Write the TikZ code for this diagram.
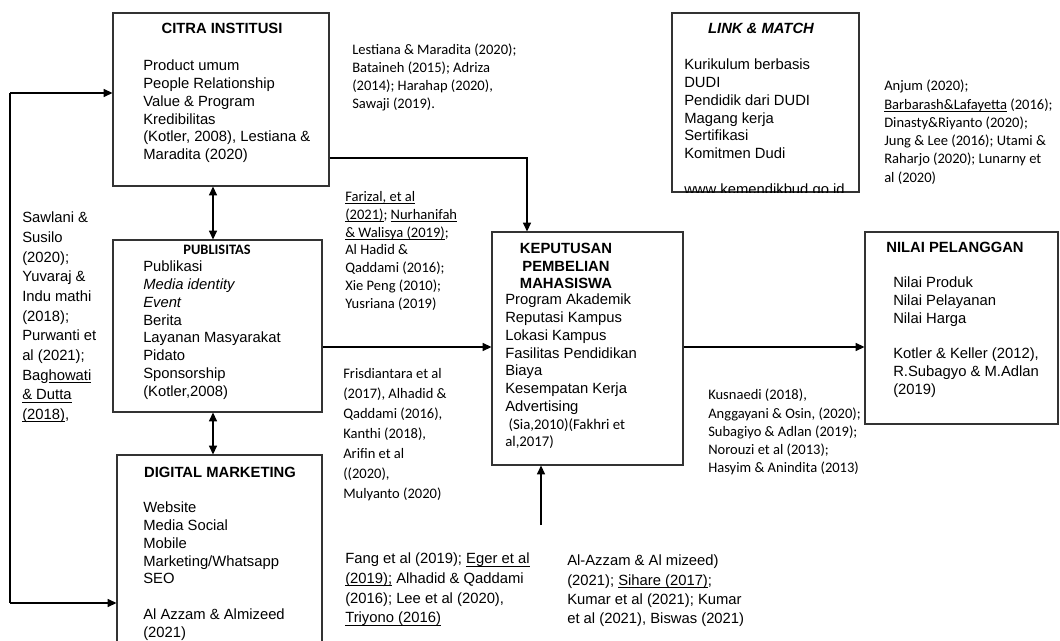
\documentclass[tikz,border=0pt]{standalone}
\usepackage{fontspec}
\setmainfont{Liberation Sans}
\newfontfamily\calibfont{Carlito}
\usetikzlibrary{arrows.meta,fit,calc}

% underline drawn just below the baseline
\newcommand\ulref[1]{\setbox0\hbox{#1}\rlap{\rule[-1.6pt]{\wd0}{0.45pt}}\box0\relax}

\tikzset{
  box/.style={draw=black!80, line width=0.9pt, inner sep=0pt},
  conn/.style={draw=black, line width=1.1pt, -{Triangle[length=6.5pt,width=6pt]}},
  conn2/.style={draw=black, line width=1.1pt, {Triangle[length=6.5pt,width=6pt]}-{Triangle[length=6.5pt,width=6pt]}},
  plainline/.style={draw=black, line width=1.1pt},
  arialtxt/.style={anchor=north west, inner sep=0pt, align=left, font=\fontsize{11.1}{13.3}\selectfont},
  arialref/.style={anchor=north west, inner sep=0pt, align=left, font=\fontsize{11.1}{14.75}\selectfont},
  calibtxt/.style={anchor=north west, inner sep=0pt, align=left, font=\calibfont\fontsize{10.9}{13.4}\selectfont},
  title/.style={inner sep=0pt, anchor=base, font=\bfseries\fontsize{11.1}{13.3}\selectfont},
}

\begin{document}
\begin{tikzpicture}[x=0.75pt,y=-0.75pt]
\useasboundingbox (0,0) rectangle (1060,641);
\fill[white] (0,0) rectangle (1060,641);

% ---------- boxes ----------
\node[box, fit={(113,13) (329,186)}] (citra) {};
\node[box, fit={(113,240) (322,412)}] (pub) {};
\node[box, fit={(117,455) (322,650)}] (dig) {};
\node[box, fit={(492,232) (683,465)}] (kep) {};
\node[box, fit={(865,232) (1058,424)}] (nilai) {};
\node[box, fit={(672,13) (859,192)}] (link) {};

% ---------- CITRA INSTITUSI ----------
\node[title] (citraT) at (222,34) {CITRA INSTITUSI};
\node[arialtxt] (citraL) at (143,60) {Product umum\\People Relationship\\Value \& Program\\Kredibilitas\\(Kotler, 2008), Lestiana \&\\Maradita (2020)};

% ---------- LINK & MATCH ----------
\node[title, font=\bfseries\itshape\fontsize{11.1}{13.3}\selectfont] (linkT) at (761,34) {LINK \& MATCH};
\begin{scope}
  \clip (link.south west) rectangle (link.north east);
  \node[arialtxt] (linkL) at (684,59) {Kurikulum berbasis\\DUDI\\Pendidik dari DUDI\\Magang kerja\\Sertifikasi\\Komitmen Dudi\\[13.3pt]www kemendikbud go id};
\end{scope}

% ---------- PUBLISITAS ----------
\node[title, font=\calibfont\bfseries\fontsize{10.8}{13}\selectfont] (pubT) at (217,255) {PUBLISITAS};
\node[arialtxt] (pubL) at (143,261) {Publikasi\\\textit{Media identity}\\\textit{Event}\\Berita\\Layanan Masyarakat\\Pidato\\Sponsorship\\(Kotler,2008)};

% ---------- DIGITAL MARKETING ----------
\node[title] (digT) at (220,477) {DIGITAL MARKETING};
\node[arialtxt] (digL) at (143,502) {Website\\Media Social\\Mobile\\Marketing/Whatsapp\\SEO\\[13.3pt]Al Azzam \& Almizeed\\(2021)};

% ---------- KEPUTUSAN PEMBELIAN MAHASISWA ----------
\node[anchor=north, inner sep=0pt, align=center, font=\bfseries\fontsize{11.1}{13.1}\selectfont] (kepT) at (566,243) {KEPUTUSAN\\PEMBELIAN\\MAHASISWA};
\node[arialtxt] (kepL) at (505,294) {Program Akademik\\Reputasi Kampus\\Lokasi Kampus\\Fasilitas Pendidikan\\Biaya\\Kesempatan Kerja\\Advertising\\{\calibfont\ (Sia,2010)(Fakhri et}\\{\calibfont al,2017)}};

% ---------- NILAI PELANGGAN ----------
\node[title] (nilaiT) at (955,253) {NILAI PELANGGAN};
\node[arialtxt] (nilaiL) at (893,277) {Nilai Produk\\Nilai Pelayanan\\Nilai Harga\\[13.3pt]Kotler \& Keller (2012),\\R.Subagyo \& M.Adlan\\(2019)};

% ---------- references ----------
\node[arialref] (refLeft) at (22,212) {Sawlani \&\\Susilo\\(2020);\\Yuvaraj \&\\Indu mathi\\(2018);\\Purwanti et\\al (2021);\\Bag\ulref{howati}\\\ulref{\& Dutta}\\\ulref{(2018)},};
\node[calibtxt] (refCitra) at (352,44) {Lestiana \& Maradita (2020);\\Bataineh (2015); Adriza\\(2014); Harahap (2020),\\Sawaji (2019).};
\node[calibtxt] (refPubA) at (345,191) {\ulref{Farizal, et al}\\\ulref{(2021)}; \ulref{Nurhanifah}\\\ulref{\& Walisya (2019)};\\Al Hadid \&\\Qaddami (2016);\\Xie Peng (2010);\\Yusriana (2019)};
\node[calibtxt, font=\calibfont\fontsize{10.9}{15}\selectfont] (refPubB) at (343,368) {Frisdiantara et al\\(2017), Alhadid \&\\Qaddami (2016),\\Kanthi (2018),\\Arifin et al\\((2020),\\Mulyanto (2020)};
\node[calibtxt, font=\calibfont\fontsize{10.9}{13.7}\selectfont] (refLink) at (884,80) {Anjum (2020);\\\ulref{Barbarash\&Lafayetta} (2016);\\Dinasty\&Riyanto (2020);\\Jung \& Lee (2016); Utami \&\\Raharjo (2020); Lunarny et\\al (2020)};
\node[calibtxt, font=\calibfont\fontsize{10.9}{13.7}\selectfont] (refNilai) at (708,389) {Kusnaedi (2018),\\Anggayani \& Osin, (2020);\\Subagiyo \& Adlan (2019);\\Norouzi et al (2013);\\Hasyim \& Anindita (2013)};
\node[arialref] (refDig) at (345,553) {Fang et al (2019); \ulref{Eger et al}\\\ulref{(2019);} Alhadid \& Qaddami\\(2016); Lee et al (2020),\\\ulref{Triyono (2016)}};
\node[arialref, font=\fontsize{11.1}{14.4}\selectfont] (refKep) at (567,555) {Al-Azzam \& Al mizeed)\\(2021); \ulref{Sihare (2017)};\\Kumar et al (2021); Kumar\\et al (2021), Biswas (2021)};

% ---------- connectors ----------
\coordinate (lt) at (10,93);
\coordinate (lb) at (10,603);
\draw[plainline] (lt) -- (lb);
\draw[conn] (lt) -- (lt -| citra.west);
\draw[conn] (lb) -- (lb -| dig.west);

\coordinate (ax) at (213,0);
\draw[conn2] (citra.south -| ax) -- (pub.north -| ax);
\draw[conn2] (pub.south -| ax) -- (dig.north -| ax);

\coordinate (cy) at (527,158);
\draw[conn] (citra.east |- cy) -| (kep.north -| cy);

\coordinate (my) at (0,347);
\draw[conn] (pub.east |- my) -- (kep.west |- my);
\draw[conn] (kep.east |- my) -- (nilai.west |- my);

\coordinate (bt) at (541,525);
\draw[conn] (bt) -- (bt |- kep.south);
\end{tikzpicture}
\end{document}
